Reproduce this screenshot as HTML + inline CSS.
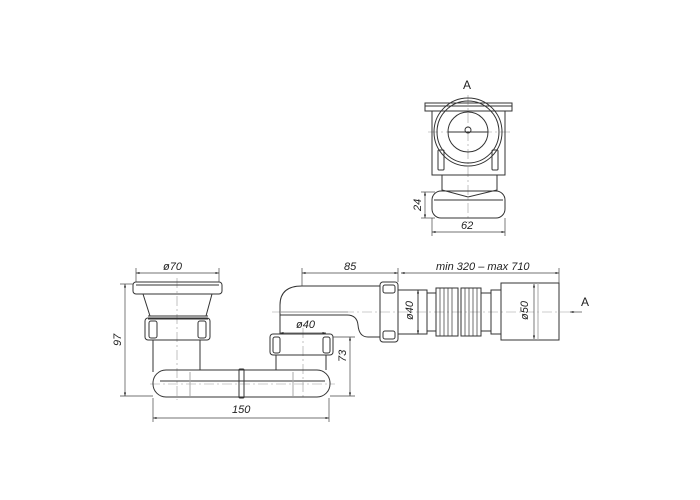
<!DOCTYPE html>
<html><head><meta charset="utf-8"><style>
html,body{margin:0;padding:0;background:#fff;}
svg{display:block}
text{font-family:"Liberation Sans",sans-serif;font-style:italic;font-size:11px;fill:#222}
</style></head><body>
<svg width="700" height="500" viewBox="0 0 700 500" xmlns="http://www.w3.org/2000/svg">
<defs>
<marker id="a" viewBox="0 0 10 10" refX="10" refY="5" markerWidth="7" markerHeight="5" orient="auto-start-reverse"><path d="M0,2 L10,5 L0,8 z" fill="#222"/></marker>
</defs>
<g fill="none" stroke="#333" stroke-width="1">
<!-- centerlines -->
<g stroke="#999" stroke-width="0.6" stroke-dasharray="10,3,2,3">
<line x1="177" y1="278" x2="177" y2="400"/>
<line x1="303" y1="328" x2="303" y2="400"/>
<line x1="272" y1="312" x2="575" y2="312"/>
<line x1="150" y1="384" x2="335" y2="384"/>
<line x1="468" y1="95" x2="468" y2="222"/>
<line x1="428" y1="132" x2="510" y2="132"/>
</g>
<!-- flange -->
<rect x="133" y="282" width="89" height="12" rx="3"/>
<line x1="136" y1="285" x2="219" y2="285"/>
<path d="M143,294 L150,316 L206,316 L212,294"/>
<path d="M148,316 L208,316 M148,319 L208,319"/>
<!-- left nut -->
<rect x="145" y="318" width="65" height="22" rx="3"/>
<rect x="149" y="321" width="8" height="17" rx="2"/>
<rect x="198" y="321" width="8" height="17" rx="2"/>
<line x1="153" y1="340" x2="153" y2="372"/>
<line x1="200" y1="340" x2="200" y2="370"/>
<!-- bottom body -->
<rect x="153" y="370" width="177" height="27" rx="13"/>
<line x1="160" y1="381" x2="325" y2="381"/>
<rect x="239" y="369" width="5" height="29" rx="1"/>
<line x1="190" y1="372" x2="190" y2="396" stroke="#aaa"/>
<line x1="293" y1="372" x2="293" y2="396" stroke="#aaa"/>
<!-- right nut -->
<rect x="270" y="334" width="63" height="21" rx="3"/>
<rect x="273" y="337" width="7" height="16" rx="2"/>
<rect x="323" y="337" width="7" height="16" rx="2"/>
<line x1="276" y1="355" x2="276" y2="370"/>
<line x1="326" y1="355" x2="326" y2="370"/>
<!-- elbow -->
<path d="M280,334 L280,305 Q280,286 302,286 L380,286"/>
<path d="M280,315 L347,315 Q357,315 358,325 Q359,337 368,337 L380,337"/>
<line x1="280" y1="312" x2="348" y2="312" stroke="#999"/>
<!-- coupling nut -->
<rect x="380" y="282" width="18" height="60" rx="3"/>
<rect x="383" y="285" width="12" height="8" rx="2"/>
<rect x="383" y="331" width="12" height="8" rx="2"/>
<line x1="398" y1="290" x2="418" y2="290"/>
<line x1="398" y1="334" x2="418" y2="334"/>
<!-- corrugated -->
<rect x="418" y="290" width="9" height="44"/>
<rect x="427" y="293" width="9" height="38"/>
<rect x="436" y="288" width="22" height="48"/>
<rect x="461" y="288" width="20" height="48"/>
<g stroke-width="0.7">
<path d="M440,288v48M444,288v48M448,288v48M452,288v48M465,288v48M469,288v48M473,288v48M477,288v48"/>
</g>
<rect x="481" y="293" width="10" height="38"/>
<rect x="491" y="290" width="10" height="44"/>
<rect x="501" y="283" width="58" height="57"/>
<line x1="538" y1="283" x2="538" y2="340" stroke="#aaa"/>
<!-- dimensions -->
<g stroke="#444" stroke-width="0.7">
<line x1="136" y1="268" x2="136" y2="282"/><line x1="219" y1="268" x2="219" y2="282"/>
<line x1="136" y1="273" x2="219" y2="273" marker-start="url(#a)" marker-end="url(#a)"/>
<line x1="302" y1="268" x2="302" y2="286"/><line x1="398" y1="268" x2="398" y2="282"/>
<line x1="302" y1="273" x2="398" y2="273" marker-start="url(#a)" marker-end="url(#a)"/>
<line x1="559" y1="268" x2="559" y2="283"/>
<line x1="401" y1="273" x2="559" y2="273" marker-start="url(#a)" marker-end="url(#a)"/>
<line x1="120" y1="284" x2="133" y2="284"/><line x1="120" y1="396" x2="153" y2="396"/>
<line x1="125" y1="284" x2="125" y2="396" marker-start="url(#a)" marker-end="url(#a)"/>
<line x1="333" y1="337" x2="355" y2="337"/><line x1="330" y1="396" x2="355" y2="396"/>
<line x1="350" y1="337" x2="350" y2="396" marker-start="url(#a)" marker-end="url(#a)"/>
<line x1="153" y1="398" x2="153" y2="422"/><line x1="329" y1="398" x2="329" y2="422"/>
<line x1="153" y1="418" x2="329" y2="418" marker-start="url(#a)" marker-end="url(#a)"/>
<line x1="280" y1="333" x2="326" y2="333" marker-start="url(#a)" marker-end="url(#a)"/>
<line x1="418" y1="290" x2="418" y2="334" marker-start="url(#a)" marker-end="url(#a)"/>
<line x1="534" y1="284" x2="534" y2="339" marker-start="url(#a)" marker-end="url(#a)"/>
<line x1="582" y1="312" x2="570" y2="312" marker-end="url(#a)"/>
<line x1="425" y1="192" x2="425" y2="218" marker-start="url(#a)" marker-end="url(#a)"/>
<line x1="421" y1="192" x2="435" y2="192"/><line x1="421" y1="218" x2="435" y2="218"/>
<line x1="432" y1="218" x2="432" y2="236"/><line x1="505" y1="218" x2="505" y2="236"/>
<line x1="432" y1="232" x2="505" y2="232" marker-start="url(#a)" marker-end="url(#a)"/>
</g>
<!-- view A -->
<rect x="425" y="103" width="87" height="8"/>
<line x1="425" y1="106" x2="512" y2="106"/>
<path d="M432,111 L432,175 L505,175 L505,111"/>
<circle cx="468" cy="132" r="34"/>
<circle cx="468" cy="132" r="31"/>
<circle cx="468" cy="132" r="20"/>
<line x1="448" y1="132" x2="488" y2="132"/>
<circle cx="468" cy="130" r="3"/>
<rect x="438" y="150" width="6" height="20" rx="1"/>
<rect x="492" y="150" width="6" height="20" rx="1"/>
<path d="M442,175 L442,190 L468,197 L497,190 L497,175"/>
<rect x="432" y="191" width="73" height="27" rx="9"/>
<line x1="434" y1="200" x2="503" y2="200"/>
</g>
<g>
<text x="163" y="270">ø70</text>
<text x="344" y="270">85</text>
<text x="436" y="270">min 320 – max 710</text>
<text x="296" y="328">ø40</text>
<text x="232" y="413">150</text>
<text x="581" y="306" style="font-style:normal;font-size:12px">A</text>
<text x="463" y="89" style="font-style:normal;font-size:12px">A</text>
<text x="461" y="229">62</text>
<text transform="translate(121,346) rotate(-90)">97</text>
<text transform="translate(346,362) rotate(-90)">73</text>
<text transform="translate(413,320) rotate(-90)">ø40</text>
<text transform="translate(528,320) rotate(-90)">ø50</text>
<text transform="translate(421,211) rotate(-90)">24</text>
</g>
</svg>
</body></html>
